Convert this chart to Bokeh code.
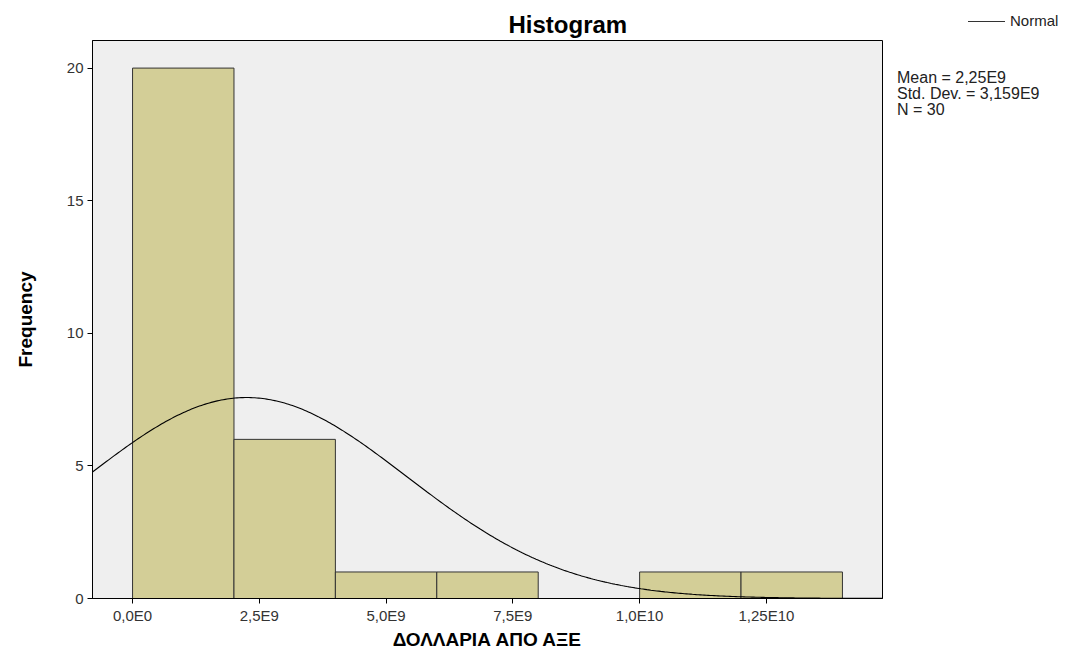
import numpy as np
from bokeh.plotting import figure
from bokeh.layouts import row
from bokeh.models import (Range1d, FixedTicker, ColumnDataSource, Div)
from bokeh.embed import file_html
from bokeh.resources import INLINE

# ---- data ----
bin_left = [0.0, 2.0e9, 4.0e9, 6.0e9, 8.0e9, 10.0e9, 12.0e9]
bin_right = [2.0e9, 4.0e9, 6.0e9, 8.0e9, 10.0e9, 12.0e9, 14.0e9]
counts = [20, 6, 1, 1, 0, 1, 1]
mean_val = 2.25e9
std_val = 3.159e9
n_val = 30
x_ticks = [0.0, 2.5e9, 5.0e9, 7.5e9, 10.0e9, 12.5e9]
x_tick_labels = ["0,0E0", "2,5E9", "5,0E9", "7,5E9", "1,0E10", "1,25E10"]
y_ticks = [0, 5, 10, 15, 20]
stats_lines = ["Mean = 2,25E9", "Std. Dev. = 3,159E9", "N = 30"]
legend_label = "Normal"

FONT = "Liberation Sans"
X0, X1 = -0.79e9, 14.79e9
Y0, Y1 = 0, 21.04
H = 652
TOP, BOTTOM = 40, 52

p = figure(width=884, height=H, output_backend="svg", toolbar_location=None,
           x_range=Range1d(X0, X1), y_range=Range1d(Y0, Y1),
           min_border_left=92, min_border_right=2, min_border_top=TOP, min_border_bottom=BOTTOM)
p.background_fill_color = "#efefef"
p.border_fill_color = "white"
p.outline_line_color = "black"
p.outline_line_width = 1
p.xgrid.visible = False
p.ygrid.visible = False

src = ColumnDataSource(dict(left=bin_left, right=bin_right, top=counts, bottom=[0]*len(counts)))
p.quad(left="left", right="right", top="top", bottom="bottom", source=src,
       fill_color="#d3ce97", line_color="#333333", line_width=1)

# fitted normal curve, scaled to counts (N * bin width)
bw = bin_right[0] - bin_left[0]
xs = np.linspace(X0, X1, 400)
ys = n_val * bw / (std_val * np.sqrt(2 * np.pi)) * np.exp(-0.5 * ((xs - mean_val) / std_val) ** 2)
p.line(xs, ys, line_color="black", line_width=1.1)

for ax in (p.xaxis[0], p.yaxis[0]):
    ax.axis_line_color = "black"
    ax.major_tick_line_color = "black"
    ax.major_tick_in = 0
    ax.major_tick_out = 5
    ax.minor_tick_line_color = None
    ax.major_label_text_font = FONT
    ax.major_label_text_font_size = "15px"
    ax.major_label_text_color = "#333333"
    ax.axis_label_text_font = FONT
    ax.axis_label_text_font_style = "bold"
    ax.axis_label_text_color = "black"

p.xaxis.ticker = FixedTicker(ticks=x_ticks)
p.xaxis.major_label_overrides = {t: l for t, l in zip(x_ticks, x_tick_labels)}
p.yaxis.ticker = FixedTicker(ticks=y_ticks)
p.xaxis.major_label_standoff = 3
p.yaxis.major_label_standoff = 4
p.xaxis.axis_label = "ΔΟΛΛΑΡΙΑ ΑΠΟ ΑΞΕ"
p.xaxis.axis_label_text_font_size = "19px"
p.xaxis.axis_label_standoff = 2
p.yaxis.axis_label = "Frequency"
p.yaxis.axis_label_text_font_size = "19px"
p.yaxis.axis_label_standoff = 28

p.title.text = "Histogram"
p.title.align = "left"
p.title.offset = 416
p.title.text_font = FONT
p.title.text_font_size = "24px"
p.title.text_font_style = "bold"
p.title.text_color = "black"
p.title.standoff = 6

# ---- right-hand block: legend key and summary statistics ----
side_html = (
    "<div style=\"position:relative;width:180px;height:%dpx;font-family:'%s';color:#222222;\">"
    "<div style=\"position:absolute;left:84px;top:13px;height:16px;display:flex;align-items:center;"
    "font-size:15px;white-space:nowrap;\">"
    "<span style=\"display:inline-block;width:37px;height:0;border-top:1px solid #333333;"
    "margin-right:5px;\"></span>%s</div>"
    "<div style=\"position:absolute;left:13px;top:70px;font-size:16px;line-height:16px;"
    "white-space:nowrap;\">%s</div>"
    "</div>"
) % (H, FONT, legend_label, "<br>".join(stats_lines))
side = Div(text=side_html, width=180, height=H, margin=(0, 0, 0, 0))

layout = row(p, side, spacing=0)
open("out.html", "w").write(file_html(layout, INLINE))
